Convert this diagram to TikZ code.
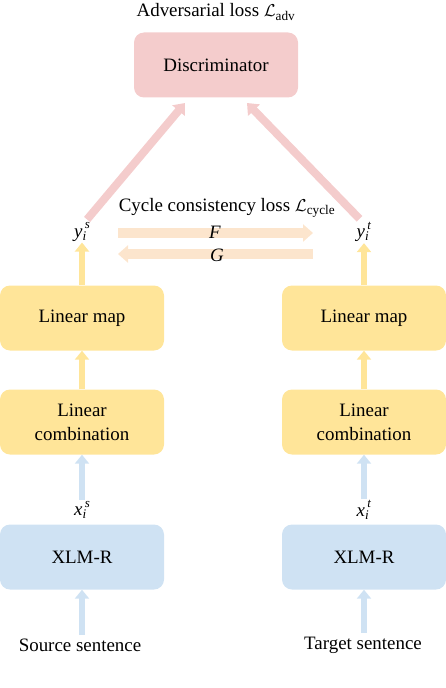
\documentclass[tikz,border=0pt]{standalone}
\usepackage{fontspec}
\setmainfont{Liberation Serif}
\usetikzlibrary{arrows.meta,positioning}
\definecolor{pinkbox}{HTML}{F4CCCC}
\definecolor{yellowbox}{HTML}{FFE599}
\definecolor{bluebox}{HTML}{CFE2F3}
\definecolor{cyclearrow}{HTML}{FCE5CD}
\newcommand{\vecvar}[2]{\textit{#1}\textsubscript{\textit{i}}\hspace{-0.1em}\raisebox{0.45em}{\fontsize{13}{13}\selectfont\textit{#2}}}

\begin{document}
\begin{tikzpicture}[x=1bp, y=-1bp,
    font=\fontsize{19}{24}\selectfont,
    box/.style={rectangle, rounded corners=10bp, minimum width=164bp, minimum height=65bp, inner sep=0pt, align=center},
    uparrow/.style={line width=6bp, -{Triangle[width=14bp,length=9bp]}}]
    \useasboundingbox (0,0) rectangle (446,688);

    % Top: discriminator
    \node[box, fill=pinkbox] (disc) at (216,65) {Discriminator};
    \node (advlabel) at (216,12) {Adversarial loss $\mathcal{L}$\textsubscript{adv}};

    % Left branch (source)
    \node (srcS) at (80,645) {Source sentence};
    \node[box, fill=bluebox] (xlmS) at (82,557) {XLM-R};
    \node[inner sep=1bp] (xs) at (82,510) {\vecvar{x}{s}};
    \node[box, fill=yellowbox] (combS) at (82,422) {Linear\\combination};
    \node[box, fill=yellowbox] (mapS) at (82,318) {Linear map};
    \node[inner sep=1bp] (ys) at (82,232) {\vecvar{y}{s}};

    % Right branch (target)
    \node (srcT) at (363,645) {Target sentence};
    \node[box, fill=bluebox] (xlmT) at (364,557) {XLM-R};
    \node[inner sep=1bp] (xt) at (364,510) {\vecvar{x}{t}};
    \node[box, fill=yellowbox] (combT) at (364,422) {Linear\\combination};
    \node[box, fill=yellowbox] (mapT) at (364,318) {Linear map};
    \node[inner sep=1bp] (yt) at (364,232) {\vecvar{y}{t}};

    % Vertical flows
    \draw[uparrow, bluebox] (srcS.north -| xlmS) -- (xlmS);
    \draw[uparrow, bluebox] (xs) -- (combS);
    \draw[uparrow, yellowbox] (combS) -- (mapS);
    \draw[uparrow, yellowbox] (mapS) -- (ys);
    \draw[uparrow, bluebox] (srcT.north -| xlmT) -- (xlmT);
    \draw[uparrow, bluebox] (xt) -- (combT);
    \draw[uparrow, yellowbox] (combT) -- (mapT);
    \draw[uparrow, yellowbox] (mapT) -- (yt);

    % To the discriminator
    \draw[uparrow, pinkbox, line width=8bp, -{Triangle[width=16bp,length=10bp]}] (ys.north east) ++(-4,-2) -- (185,103);
    \draw[uparrow, pinkbox, line width=8bp, -{Triangle[width=16bp,length=10bp]}] (yt.north west) ++(4,-2) -- (247,103);

    % Cycle consistency
    \node (cyclabel) at (227,208) {Cycle consistency loss $\mathcal{L}$\textsubscript{cycle}};
    \coordinate (fstart) at (118,233);
    \coordinate (fend) at (313,233);
    \coordinate (gstart) at (313,254);
    \coordinate (gend) at (118,254);
    \draw[cyclearrow, line width=10bp, -{Triangle[width=17bp,length=10bp]}] (fstart) -- (fend);
    \draw[cyclearrow, line width=10bp, -{Triangle[width=17bp,length=10bp]}] (gstart) -- (gend);
    \node (flabel) at (215,232) {\textit{F}};
    \node (glabel) at (217,255) {\textit{G}};
\end{tikzpicture}
\end{document}
